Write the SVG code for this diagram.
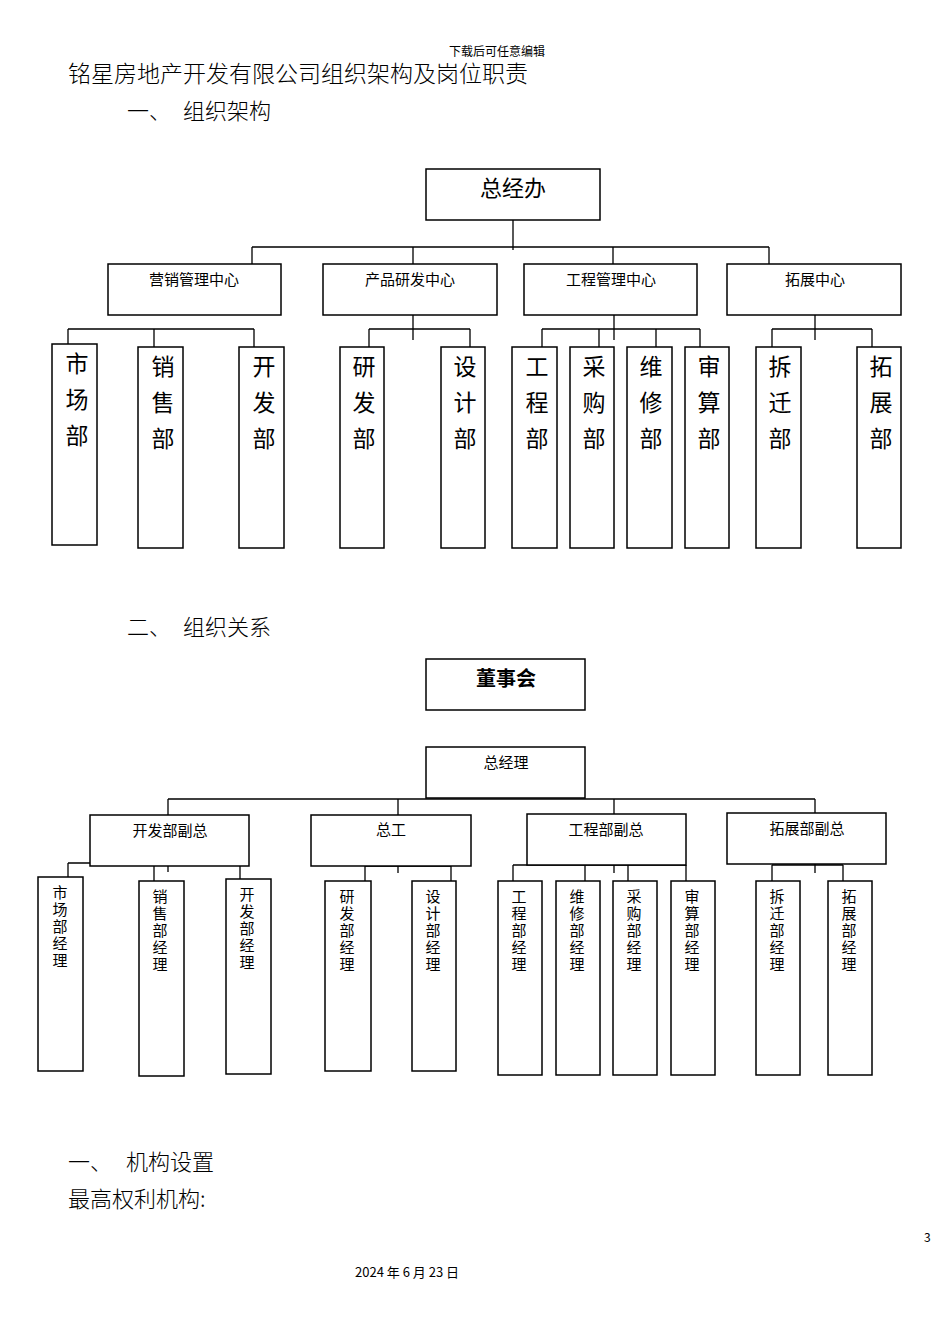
<svg xmlns="http://www.w3.org/2000/svg" width="950" height="1344" viewBox="0 0 950 1344">
<style>
text{font-family:"Noto Sans CJK SC","Noto Sans",sans-serif;fill:#000}
.b{fill:#fff;stroke:#000;stroke-width:1.5}
.c{fill:none;stroke:#000;stroke-width:1.3}
.h{font-size:22px;font-weight:300}
.m{font-size:15px;text-anchor:middle}
.v{font-size:23px;text-anchor:middle}
.s{font-size:15px;text-anchor:middle}
</style>
<rect width="950" height="1344" fill="#fff"/>
<text x="497" y="56" font-size="12" text-anchor="middle">下载后可任意编辑</text>
<text x="68" y="82" font-size="23" font-weight="300">铭星房地产开发有限公司组织架构及岗位职责</text>
<text x="127" y="119" class="h">一、</text><text x="183" y="119" class="h">组织架构</text>
<text x="127" y="635" class="h">二、</text><text x="183" y="635" class="h">组织关系</text>
<text x="68" y="1170" class="h">一、</text><text x="126" y="1170" class="h">机构设置</text>
<text x="68" y="1207" class="h">最高权利机构:</text>
<text x="924" y="1242" font-size="12">3</text>
<text x="355" y="1277" font-size="13">2024 年 6 月 23 日</text>

<g id="connectors">
<path class="c" d="M513 213V250M252 247H769M252 247V271M413 247V271M613 247V271M769 247V271"/>
<path class="c" d="M68 329H254M68 329V354M154 329V354M254 329V354"/>
<path class="c" d="M413 303V340M369 329H470M369 329V352M470 329V352"/>
<path class="c" d="M614 303V340M542 329H700M542 329V353M599 329V353M656 329V353M700 329V353"/>
<path class="c" d="M815 303V340M772 329H872M772 329V353M872 329V353"/>
<path class="c" d="M168 799H815M168 799V827M398 799V830M614 799V830M815 799V825"/>
<path class="c" d="M168 848V872M68 863H240M68 863V888M154 863V893M240 863V888"/>
<path class="c" d="M398 850V873M365 866H451M365 866V890M451 866V890"/>
<path class="c" d="M614 848V873M513 865H686M513 865V890M585 865V890M628 865V890M686 865V890"/>
<path class="c" d="M815 849V873M772 865H843M772 865V890M843 865V890"/>
</g>

<g id="n-zjb"><rect class="b" x="426" y="169" width="174" height="51"/><text x="513" y="196" font-size="22" text-anchor="middle">总经办</text></g>
<g id="n-yx"><rect class="b" x="108" y="264" width="173" height="51"/><text x="194" y="285" class="m">营销管理中心</text></g>
<g id="n-cp"><rect class="b" x="323" y="264" width="174" height="51"/><text x="410" y="285" class="m">产品研发中心</text></g>
<g id="n-gc"><rect class="b" x="524" y="264" width="173" height="51"/><text x="611" y="285" class="m">工程管理中心</text></g>
<g id="n-tz"><rect class="b" x="727" y="264" width="174" height="51"/><text x="815" y="285" class="m">拓展中心</text></g>

<g id="d1"><rect class="b" x="52" y="344" width="45" height="201"/><text class="v" x="77" y="372">市</text><text class="v" x="77" y="408">场</text><text class="v" x="77" y="444">部</text></g>
<g id="d2"><rect class="b" x="138" y="347" width="45" height="201"/><text class="v" x="163" y="375">销</text><text class="v" x="163" y="411">售</text><text class="v" x="163" y="447">部</text></g>
<g id="d3"><rect class="b" x="239" y="347" width="45" height="201"/><text class="v" x="264" y="375">开</text><text class="v" x="264" y="411">发</text><text class="v" x="264" y="447">部</text></g>
<g id="d4"><rect class="b" x="340" y="347" width="44" height="201"/><text class="v" x="364" y="375">研</text><text class="v" x="364" y="411">发</text><text class="v" x="364" y="447">部</text></g>
<g id="d5"><rect class="b" x="441" y="347" width="44" height="201"/><text class="v" x="465" y="375">设</text><text class="v" x="465" y="411">计</text><text class="v" x="465" y="447">部</text></g>
<g id="d6"><rect class="b" x="512" y="347" width="45" height="201"/><text class="v" x="537" y="375">工</text><text class="v" x="537" y="411">程</text><text class="v" x="537" y="447">部</text></g>
<g id="d7"><rect class="b" x="570" y="347" width="44" height="201"/><text class="v" x="594" y="375">采</text><text class="v" x="594" y="411">购</text><text class="v" x="594" y="447">部</text></g>
<g id="d8"><rect class="b" x="627" y="347" width="45" height="201"/><text class="v" x="651" y="375">维</text><text class="v" x="651" y="411">修</text><text class="v" x="651" y="447">部</text></g>
<g id="d9"><rect class="b" x="685" y="347" width="44" height="201"/><text class="v" x="709" y="375">审</text><text class="v" x="709" y="411">算</text><text class="v" x="709" y="447">部</text></g>
<g id="d10"><rect class="b" x="756" y="347" width="45" height="201"/><text class="v" x="780" y="375">拆</text><text class="v" x="780" y="411">迁</text><text class="v" x="780" y="447">部</text></g>
<g id="d11"><rect class="b" x="857" y="347" width="44" height="201"/><text class="v" x="881" y="375">拓</text><text class="v" x="881" y="411">展</text><text class="v" x="881" y="447">部</text></g>

<g id="n-dsh"><rect class="b" x="426" y="659" width="159" height="51"/><text x="506" y="686" font-size="20" font-weight="bold" text-anchor="middle">董事会</text></g>
<g id="n-zjl"><rect class="b" x="426" y="747" width="159" height="51"/><text x="506" y="768" class="m">总经理</text></g>
<g id="n-kffz"><rect class="b" x="90" y="815" width="159" height="51"/><text x="170" y="836" class="m">开发部副总</text></g>
<g id="n-zg"><rect class="b" x="311" y="815" width="160" height="51"/><text x="391" y="835" class="m">总工</text></g>
<g id="n-gcfz"><rect class="b" x="527" y="814" width="159" height="51"/><text x="606" y="835" class="m">工程部副总</text></g>
<g id="n-tzfz"><rect class="b" x="727" y="813" width="159" height="51"/><text x="807" y="834" class="m">拓展部副总</text></g>

<g id="m1"><rect class="b" x="38" y="877" width="45" height="194"/><text class="s" x="60" y="898">市</text><text class="s" x="60" y="915">场</text><text class="s" x="60" y="932">部</text><text class="s" x="60" y="949">经</text><text class="s" x="60" y="966">理</text></g>
<g id="m2"><rect class="b" x="139" y="881" width="45" height="195"/><text class="s" x="160" y="902">销</text><text class="s" x="160" y="919">售</text><text class="s" x="160" y="936">部</text><text class="s" x="160" y="953">经</text><text class="s" x="160" y="970">理</text></g>
<g id="m3"><rect class="b" x="226" y="879" width="45" height="195"/><text class="s" x="247" y="900">开</text><text class="s" x="247" y="917">发</text><text class="s" x="247" y="934">部</text><text class="s" x="247" y="951">经</text><text class="s" x="247" y="968">理</text></g>
<g id="m4"><rect class="b" x="325" y="881" width="46" height="190"/><text class="s" x="347" y="902">研</text><text class="s" x="347" y="919">发</text><text class="s" x="347" y="936">部</text><text class="s" x="347" y="953">经</text><text class="s" x="347" y="970">理</text></g>
<g id="m5"><rect class="b" x="412" y="881" width="44" height="190"/><text class="s" x="433" y="902">设</text><text class="s" x="433" y="919">计</text><text class="s" x="433" y="936">部</text><text class="s" x="433" y="953">经</text><text class="s" x="433" y="970">理</text></g>
<g id="m6"><rect class="b" x="498" y="881" width="44" height="194"/><text class="s" x="519" y="902">工</text><text class="s" x="519" y="919">程</text><text class="s" x="519" y="936">部</text><text class="s" x="519" y="953">经</text><text class="s" x="519" y="970">理</text></g>
<g id="m7"><rect class="b" x="556" y="881" width="44" height="194"/><text class="s" x="577" y="902">维</text><text class="s" x="577" y="919">修</text><text class="s" x="577" y="936">部</text><text class="s" x="577" y="953">经</text><text class="s" x="577" y="970">理</text></g>
<g id="m8"><rect class="b" x="613" y="881" width="44" height="194"/><text class="s" x="634" y="902">采</text><text class="s" x="634" y="919">购</text><text class="s" x="634" y="936">部</text><text class="s" x="634" y="953">经</text><text class="s" x="634" y="970">理</text></g>
<g id="m9"><rect class="b" x="671" y="881" width="44" height="194"/><text class="s" x="692" y="902">审</text><text class="s" x="692" y="919">算</text><text class="s" x="692" y="936">部</text><text class="s" x="692" y="953">经</text><text class="s" x="692" y="970">理</text></g>
<g id="m10"><rect class="b" x="756" y="881" width="44" height="194"/><text class="s" x="777" y="902">拆</text><text class="s" x="777" y="919">迁</text><text class="s" x="777" y="936">部</text><text class="s" x="777" y="953">经</text><text class="s" x="777" y="970">理</text></g>
<g id="m11"><rect class="b" x="828" y="881" width="44" height="194"/><text class="s" x="849" y="902">拓</text><text class="s" x="849" y="919">展</text><text class="s" x="849" y="936">部</text><text class="s" x="849" y="953">经</text><text class="s" x="849" y="970">理</text></g>
</svg>
